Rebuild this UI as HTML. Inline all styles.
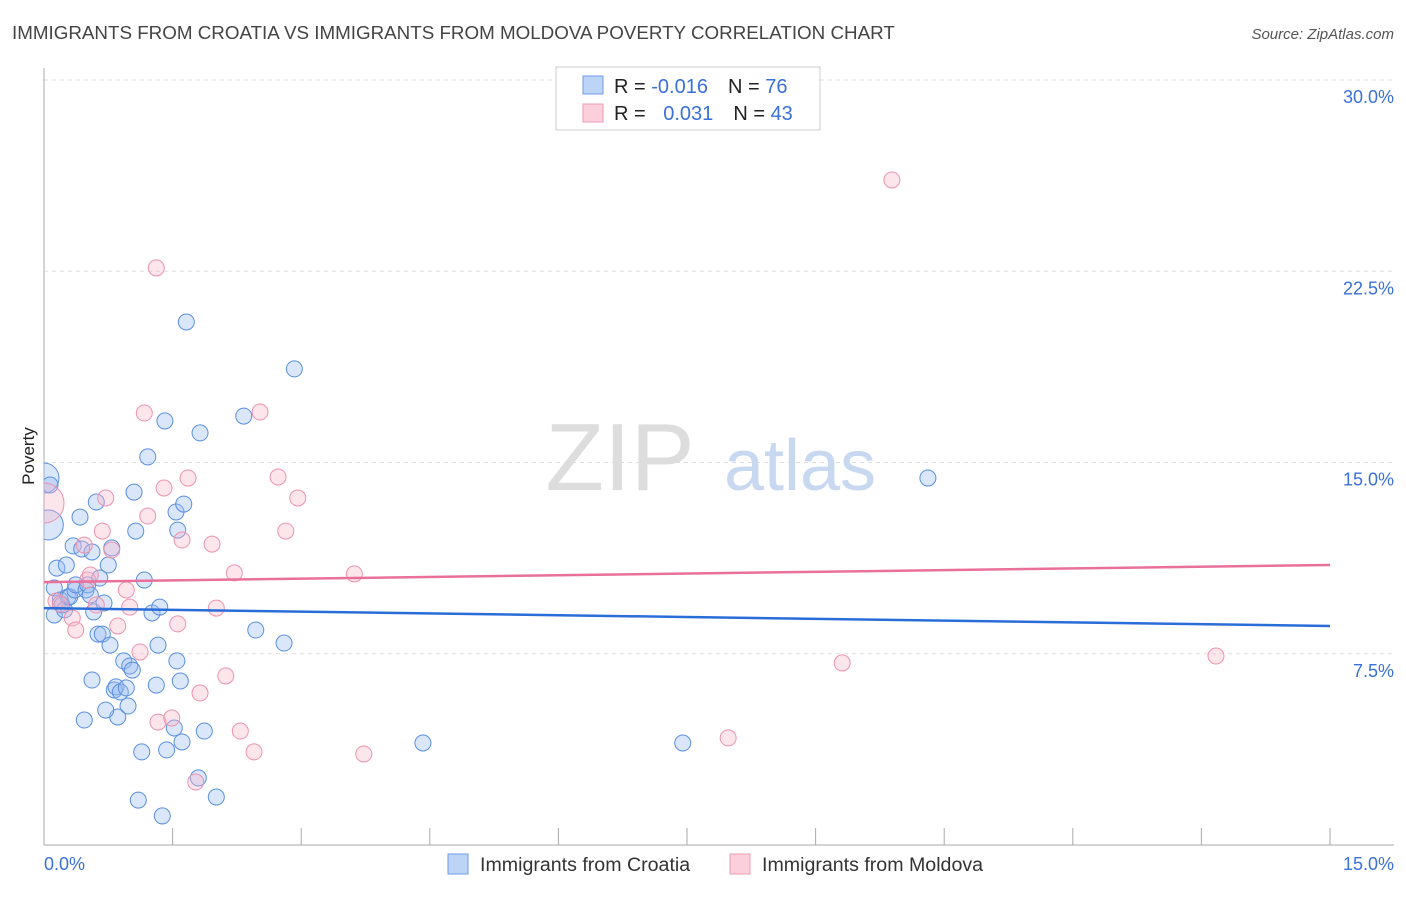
<!DOCTYPE html>
<html><head><meta charset="utf-8"><style>
body{margin:0;background:#fff;font-family:"Liberation Sans",sans-serif;}
svg text{font-family:"Liberation Sans",sans-serif;}
</style></head><body>
<svg width="1406" height="892" xmlns="http://www.w3.org/2000/svg" id="chart">
<defs><clipPath id="plotclip"><rect x="44" y="60" width="1360" height="785"/></clipPath></defs>
<text x="12" y="39" font-size="18.8" fill="#444">IMMIGRANTS FROM CROATIA VS IMMIGRANTS FROM MOLDOVA POVERTY CORRELATION CHART</text>
<text x="1394" y="39" font-size="15" fill="#555" font-style="italic" text-anchor="end">Source: ZipAtlas.com</text>
<g id="grid"></g>
<text x="620" y="490" font-size="96" fill="#ddd" font-family="Liberation Serif" text-anchor="middle">ZIP</text>
<text x="800" y="490" font-size="72" fill="#c8d8f0" text-anchor="middle">atlas</text>
<line x1="44" y1="68" x2="44" y2="845" stroke="#aaa"/>
<line x1="44" y1="845" x2="1394" y2="845" stroke="#aaa"/>
<g id="xticks"></g>
<g id="ylabels"></g>
<text x="34" y="456" font-size="17" fill="#222" transform="rotate(-90 34 456)" text-anchor="middle">Poverty</text>
<text x="44" y="870" font-size="18" fill="#3a70d8">0.0%</text>
<text x="1394" y="870" font-size="18" fill="#3a70d8" text-anchor="end">15.0%</text>
<g id="points" clip-path="url(#plotclip)"></g>
<g id="lines"></g>
<g>
<rect x="556" y="67" width="264" height="63" fill="#fff" stroke="#ccc"/>
<rect x="583" y="76" width="20" height="18" fill="#bcd4f6" stroke="#6f9de6"/>
<rect x="583" y="104" width="20" height="18" fill="#fbd0dc" stroke="#ee9cb3"/>
<text x="614" y="93" font-size="20" fill="#222">R = <tspan fill="#3a70d8">-0.016</tspan><tspan dx="20">N = </tspan><tspan fill="#3a70d8">76</tspan></text>
<text x="614" y="120" font-size="20" fill="#222">R = <tspan fill="#3a70d8" dx="12">0.031</tspan><tspan dx="20">N = </tspan><tspan fill="#3a70d8">43</tspan></text>
</g>
<g>
<rect x="448" y="854" width="20" height="20" fill="#bcd4f6" stroke="#6f9de6"/>
<text x="480" y="871" font-size="19.6" fill="#333">Immigrants from Croatia</text>
<rect x="730" y="854" width="20" height="20" fill="#fbd0dc" stroke="#ee9cb3"/>
<text x="762" y="871" font-size="19.6" fill="#333">Immigrants from Moldova</text>
</g>
</svg>
<script>
const yTicks=[7.5,15,22.5,30];
const yTickLabels=["7.5%","15.0%","22.5%","30.0%"];
const xTicks=[0,1.5,3,4.5,6,7.5,9,10.5,12,13.5,15];
const croatiaX=[0,.07,.05,.12,.12,.15,.19,.21,.24,.26,.28,.30,.34,.36,.37,.42,.44,.49,.51,.54,.56,.58,.61,.63,.65,.68,.70,.75,.77,.79,.82,.84,.86,.89,.93,.96,.98,1.0,1.03,1.05,1.07,1.1,1.14,1.17,1.21,1.26,1.31,1.33,1.35,1.38,1.41,1.43,1.52,1.54,1.55,1.56,1.59,1.61,1.63,1.66,1.80,1.82,1.87,2.01,2.33,2.47,2.80,2.92,4.42,7.45,10.31,.47,.72,.56];
const croatiaY=[14.39,14.12,12.55,10.08,9.02,10.86,9.61,9.41,9.22,10.98,9.73,9.73,11.73,10.0,10.2,12.86,11.61,10.0,10.2,9.8,11.49,9.14,13.45,8.27,10.47,8.27,9.49,10.98,7.84,11.65,6.08,6.2,5.02,6.0,7.22,6.16,5.45,7.02,6.86,13.84,12.31,1.76,3.65,10.39,15.22,9.1,6.27,7.84,9.33,1.14,16.63,3.73,4.59,13.06,7.22,12.35,6.43,4.04,13.37,20.51,2.63,16.16,4.47,1.88,16.82,8.43,7.92,18.67,4.0,4.0,14.39,4.9,5.29,6.47];
const moldovaX=[0,.14,.19,.33,.37,.47,.51,.54,.61,.68,.72,.79,.86,.96,1.0,1.12,1.17,1.21,1.31,1.33,1.40,1.49,1.56,1.61,1.68,1.77,1.82,1.96,2.01,2.12,2.22,2.29,2.45,2.52,2.73,2.82,2.96,3.62,3.73,7.98,9.31,9.89,13.67];
const moldovaY=[13.41,9.57,9.45,8.9,8.43,11.76,10.39,10.59,9.41,12.31,13.61,11.57,8.59,10.0,9.33,7.57,16.94,12.9,22.63,4.82,14.0,4.98,8.67,11.96,14.39,2.47,5.96,11.8,9.29,6.63,10.67,4.47,3.65,16.98,14.43,12.31,13.61,10.63,3.57,4.2,7.14,26.08,7.41];
const croatiaTrend=[9.29,8.59];
const moldovaTrend=[10.31,10.98];
const NS="http://www.w3.org/2000/svg";
const X=v=>44+v/15*1286;
const Y=v=>845-v/30*765;
function mk(t,a,p){const e=document.createElementNS(NS,t);for(const k in a)e.setAttribute(k,a[k]);p.appendChild(e);return e;}
const grid=document.getElementById('grid'),yl=document.getElementById('ylabels'),xt=document.getElementById('xticks');
yTicks.forEach((v,i)=>{
const l=mk('line',{x1:44,x2:1394,y1:Y(v),y2:Y(v),stroke:'#ddd','stroke-dasharray':'4,4'},grid);


const t=mk('text',{x:1394,y:Y(v)+23,'font-size':18,fill:'#3a70d8','text-anchor':'end'},yl);
t.textContent=yTickLabels[i];


});
xTicks.forEach(v=>{
const l=mk('line',{x1:X(v),x2:X(v),y1:828,y2:845,stroke:'#aaa'},xt);


});
const pts=document.getElementById('points');
croatiaX.forEach((x,i)=>{
const big=x===0||(x<0.06&&croatiaY[i]<13);
const c=mk('circle',{cx:X(x),cy:Y(croatiaY[i]),r:big?15:8,fill:'rgba(150,185,240,0.35)',stroke:'#5b8fe0','stroke-width':1},pts);


});
moldovaX.forEach((x,i)=>{
const c=mk('circle',{cx:X(x),cy:Y(moldovaY[i]),r:x===0?20:8,fill:'rgba(248,180,200,0.35)',stroke:'#ec93ae','stroke-width':1},pts);


});
const ln=document.getElementById('lines');
const b=mk('line',{x1:X(0),x2:X(15),y1:Y(croatiaTrend[0]),y2:Y(croatiaTrend[1]),stroke:'#2a6dd8','stroke-width':2.5},ln);


const p=mk('line',{x1:X(0),x2:X(15),y1:Y(moldovaTrend[0]),y2:Y(moldovaTrend[1]),stroke:'#e8709a','stroke-width':2.5},ln);


</script>
</body></html>
